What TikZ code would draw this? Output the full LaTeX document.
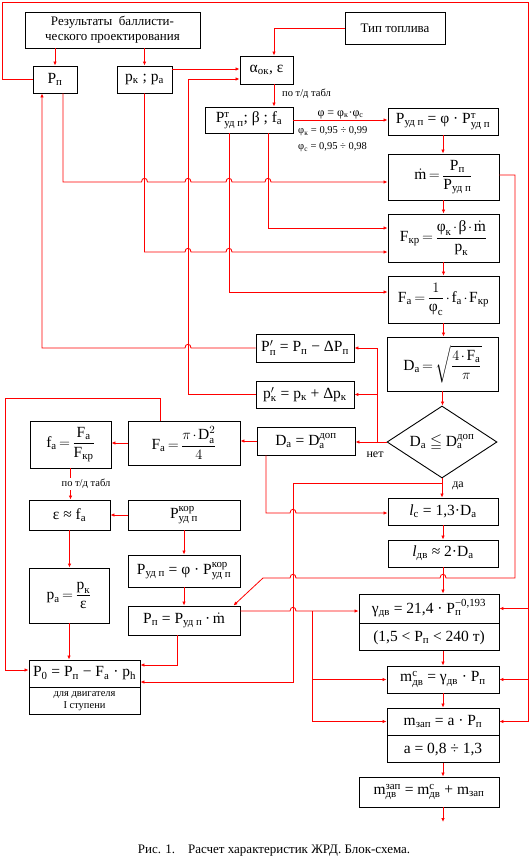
\documentclass[tikz,border=0pt]{standalone}
\usepackage{fontspec}
\usepackage{amsmath,amssymb}
\setmainfont{Liberation Serif}
\usetikzlibrary{shapes.geometric, arrows.meta, positioning}

\newcommand{\fbig}{\fontsize{15.5}{18}\selectfont\medmuskip=2mu\thickmuskip=3mu}
\newcommand{\fmid}{\fontsize{13}{15}\selectfont}
\newcommand{\fnote}{\fontsize{12}{14}\selectfont}
\newcommand{\fsmall}{\fontsize{10.5}{12}\selectfont}
% little bridge where a line steps over another one
\newcommand{\hop}[2]{-- (#1-3,#2) .. controls (#1-3,#2-5) and (#1+3,#2-5) .. (#1+3,#2)}
\newcommand{\hopl}[2]{-- (#1+3,#2) .. controls (#1+3,#2-5) and (#1-3,#2-5) .. (#1-3,#2)}

\tikzset{
    blk/.style={draw, line width=0.9pt, inner sep=1pt, font=\fbig, align=center},
    flow/.style={draw=red, line width=0.8pt, -{Latex[length=4pt,width=3.5pt]}},
    note/.style={font=\fsmall, inner sep=1pt}
}

\begin{document}
\begin{tikzpicture}[x=1pt, y=-1pt]
    \useasboundingbox (0,0) rectangle (531,859);

    % Input blocks
    \node[blk, font=\fmid, minimum width=175pt, minimum height=36pt, inner sep=0pt] (res) at (112.5,30) {Результаты\ \ баллисти-\\ческого проектирования};
    \node[blk, minimum width=100pt, minimum height=32pt, font=\fmid] (fuel) at (395,28) {Тип топлива};
    \node[blk, minimum width=44pt, minimum height=27pt] (pp) at (55,79.5) {P$_{\text{п}}$};
    \node[blk, minimum width=55pt, minimum height=27pt] (pk) at (144.5,79.5) {p$_{\text{к}}$ ; p$_{\text{а}}$};
    \node[blk, minimum width=53pt, minimum height=28pt] (aok) at (266.5,70) {α$_{\text{ок}}$, ε};
    \node[blk, minimum width=88pt, minimum height=26pt] (pt) at (249,120) {P$^{\text{т}}_{\text{уд п}}$; β ; f$_{\text{а}}$};

    % Right column
    \node[blk, minimum width=110pt, minimum height=27pt] (pud) at (443,121.5) {P$_{\text{уд п}}$ = φ · P$^{\text{т}}_{\text{уд п}}$};
    \node[blk, minimum width=111pt, minimum height=46pt] (mdot) at (443.5,177) {$\dot{\text{m}} = \dfrac{\text{P}_{\text{п}}}{\text{P}_{\text{уд п}}}$};
    \node[blk, minimum width=111pt, minimum height=48pt] (fkr) at (443.5,238) {$\text{F}_{\text{кр}} = \dfrac{\text{φ}_{\text{к}}\cdot\text{β}\cdot\dot{\text{m}}}{\text{p}_{\text{к}}}$};
    \node[blk, minimum width=111pt, minimum height=47pt] (fa) at (443.5,299.5) {$\text{F}_{\text{а}} = \dfrac{1}{\text{φ}_{\text{с}}}\cdot\text{f}_{\text{а}}\cdot\text{F}_{\text{кр}}$};
    \node[blk, minimum width=111pt, minimum height=54pt] (da) at (442.5,364) {$\text{D}_{\text{а}} = \sqrt{\dfrac{4\cdot\text{F}_{\text{а}}}{\pi}}$};
    \node[blk, diamond, aspect=1.53, minimum width=110pt, minimum height=72pt, inner sep=0pt] (dia) at (442,442) {D$_{\text{а}}$ $\leqq$ D$^{\text{доп}}_{\text{а}}$};
    \node[blk, minimum width=110pt, minimum height=27pt] (lc) at (443,511.5) {\textit{l}$_{\text{с}}$ = 1,3·D$_{\text{а}}$};
    \node[blk, minimum width=110pt, minimum height=27pt] (ldv) at (443,553.5) {\textit{l}$_{\text{дв}}$ ≈ 2·D$_{\text{а}}$};
    \node[blk, minimum width=140pt, minimum height=29pt] (gam) at (429,608.5) {γ$_{\text{дв}}$ = 21,4 · P$_{\text{п}}^{\text{−0,193}}$};
    \node[blk, minimum width=140pt, minimum height=27pt, anchor=north] (gamb) at (gam.south) {(1,5 < P$_{\text{п}}$ < 240 т)};
    \node[blk, minimum width=112pt, minimum height=27pt] (mc) at (443,679.5) {m$^{\text{с}}_{\text{дв}}$ = γ$_{\text{дв}}$ · P$_{\text{п}}$};
    \node[blk, minimum width=112pt, minimum height=27pt] (mzap) at (443,721.5) {m$_{\text{зап}}$ = a · P$_{\text{п}}$};
    \node[blk, minimum width=112pt, minimum height=27pt, anchor=north] (mzapb) at (mzap.south) {a = 0,8 ÷ 1,3};
    \node[blk, minimum width=140pt, minimum height=30pt] (mtot) at (429,792) {m$^{\text{зап}}_{\text{дв}}$ = m$^{\text{с}}_{\text{дв}}$ + m$_{\text{зап}}$};
    \coordinate (fin) at (443,822);

    % Correction blocks
    \node[blk, minimum width=98pt, minimum height=28pt] (ppn) at (305,348) {P$'_{\text{п}}$ = P$_{\text{п}}$ − ΔP$_{\text{п}}$};
    \node[blk, minimum width=98pt, minimum height=27pt] (pkn) at (305,394.5) {p$'_{\text{к}}$ = p$_{\text{к}}$ + Δp$_{\text{к}}$};
    \node[blk, minimum width=98pt, minimum height=28pt] (ddop) at (306,441) {D$_{\text{а}}$ = D$^{\text{доп}}_{\text{а}}$};
    \node[blk, minimum width=112pt, minimum height=44pt] (fa2) at (184,443) {$\text{F}_{\text{а}} = \dfrac{\pi\cdot\text{D}_{\text{а}}^{2}}{4}$};
    \node[blk, minimum width=81pt, minimum height=47pt] (fa3) at (70.5,444.5) {$\text{f}_{\text{а}} = \dfrac{\text{F}_{\text{а}}}{\text{F}_{\text{кр}}}$};
    \node[blk, minimum width=81pt, minimum height=30pt] (eps) at (69.5,515) {ε ≈ f$_{\text{а}}$};
    \node[blk, minimum width=112pt, minimum height=30pt] (pkor) at (184,515) {P$^{\text{кор}}_{\text{уд п}}$};
    \node[blk, minimum width=112pt, minimum height=32pt] (pud2) at (184,571) {P$_{\text{уд п}}$ = φ · P$^{\text{кор}}_{\text{уд п}}$};
    \node[blk, minimum width=112pt, minimum height=29pt] (pp2) at (184,620.5) {P$_{\text{п}}$ = P$_{\text{уд п}}$\,·\,$\dot{\text{m}}$};
    \node[blk, minimum width=80pt, minimum height=55pt] (pa) at (69,595.5) {$\text{p}_{\text{а}} = \dfrac{\text{p}_{\text{к}}}{\text{ε}}$};
    \node[blk, minimum width=111pt, minimum height=27pt] (p0) at (84.5,673.5) {P$_{\text{0}}$ = P$_{\text{п}}$ − F$_{\text{а}}$ · p$_{\text{h}}$};
    \node[blk, minimum width=111pt, minimum height=27pt, anchor=north, font=\fsmall, inner sep=0pt] (p0b) at (p0.south) {для двигателя\\I ступени};

    % Labels
    \node[note, anchor=west] (ltab) at (281,94) {по т/д табл};
    \node[note, anchor=west] (lphik) at (297,131) {φ$_{\text{к}}$ = 0,95 ÷ 0,99};
    \node[note, anchor=west] (lphic) at (297,147) {φ$_{\text{с}}$ = 0,95 ÷ 0,98};
    \node[font=\fnote, inner sep=0pt] (lno) at (375,455) {нет};
    \node[font=\fnote, inner sep=0pt] (lyes) at (458,486) {да};
    \node[font=\fontsize{13}{15}\selectfont] (cap) at (274,851) {Рис. 1.\quad Расчет характеристик ЖРД. Блок-схема.};

    % Connectors
    \draw[flow] (res.south -| pp.north) -- (pp.north);
    \draw[flow] (res.south -| pk.north) -- (pk.north);
    \draw[flow] (pk.east |- 0,69) -- (aok.west |- 0,69);
    \draw[flow] (fuel.west) -| ([xshift=7.5pt]aok.north);
    \draw[flow] ([xshift=7.5pt]aok.south) -- ([xshift=7.5pt]aok.south |- pt.north);
    \draw[flow] (pt.east) -- (pt.east -| pud.west) node[midway, above, note, font=\fnote] (lphi) {φ = φ$_{\text{к}}$·φ$_{\text{с}}$};
    \draw[flow] (pud.south) -- (pud.south |- mdot.north);
    \draw[flow] (mdot.south) -- (mdot.south |- fkr.north);
    \draw[flow] (fkr.south) -- (fkr.south |- fa.north);
    \draw[flow] (fa.south) -- (fa.south |- da.north);
    \draw[flow] (da.south) -- (da.south |- dia.north);

    \draw[flow] (pp.south -| 63,0) -- (63,182) \hop{144.5}{182} \hop{188}{182} \hop{229}{182} \hop{268}{182} -- (mdot.west |- 0,182);
    \draw[flow] (pk.south) -- (pk.south |- 0,252) \hop{188}{252} \hop{229}{252} -- (fkr.west |- 0,252);
    \draw[flow] ([xshift=19pt]pt.south) |- (fkr.west |- 0,228);
    \draw[flow] ([xshift=-20pt]pt.south) |- (fa.west |- 0,292);

    \draw[flow] (pp.west) -| (2,2) -| (528,721.5) -- (mzap.east);
    \draw[flow] (528,608.5) -- (gam.east);
    \draw[flow] (528,679.5) -- (mc.east);

    % no branch
    \coordinate (jN) at (377,442);
    \draw[flow] (dia.west) -- (dia.west -| ddop.east);
    \draw[flow] (jN) |- (pkn.east);
    \draw[flow] (jN) |- (ppn.east);
    \draw[flow] (ppn.west) \hopl{188}{348} -| (pp.south -| 42,0);
    \draw[flow] (pkn.west) -| (188,79) -- (aok.west |- 0,79);
    \draw[flow] (ddop.west) -- (ddop.west -| fa2.east);
    \draw[flow] (fa2.west) -- (fa2.west -| fa3.east);
    \draw[flow] (fa3.south) -- (fa3.south |- eps.north);
    \node[note, fill=white] (ltab2) at (86,484) {по т/д табл};
    \draw[flow] (pkor.west) -- (eps.east);
    \draw[flow] (eps.south) -- (eps.south |- pa.north);
    \draw[flow] (pa.south) -- (pa.south |- p0.north);
    \draw[flow] (pkor.south) -- (pud2.north);
    \draw[flow] (pud2.south) -- (pp2.north);
    \draw[flow] ([xshift=-24pt]fa2.north) |- (5,398) |- (p0.west |- 0,670);
    \draw[flow] ([xshift=-7pt]pp2.south) |- (p0.east |- 0,665);
    \draw[flow] ([xshift=-40pt]ddop.south) |- (280,513) \hop{293}{513} -- (lc.west |- 0,513);

    % yes branch
    \draw[flow] (dia.south) -- (dia.south |- lc.north);
    \draw[flow] (dia.south |- 0,483) -| (293,682) -- (p0.east |- 0,682);
    \draw[flow] (mdot.east |- 0,175) -| (515,578) \hopl{443}{578} \hopl{293}{578} -- (263,578) -- ([xshift=-7pt]pp2.north east);
    \coordinate (jP) at (312,611);
    \draw[flow] (pp2.east |- 0,611) \hop{293}{611} -- (gam.west |- 0,611);
    \draw[flow] (jP) |- (mc.west);
    \draw[flow] (jP) |- (mzap.west);
    \draw[flow] (lc.south) -- (lc.south |- ldv.north);
    \draw[flow] (ldv.south) -- (ldv.south |- gam.north);
    \draw[flow] (gamb.south -| mc.north) -- (mc.north);
    \draw[flow] (mc.south) -- (mzap.north);
    \draw[flow] (mzapb.south) -- (mzapb.south |- mtot.north);
    \draw[flow] (mtot.south -| fin) -- (fin);
\end{tikzpicture}
\end{document}
